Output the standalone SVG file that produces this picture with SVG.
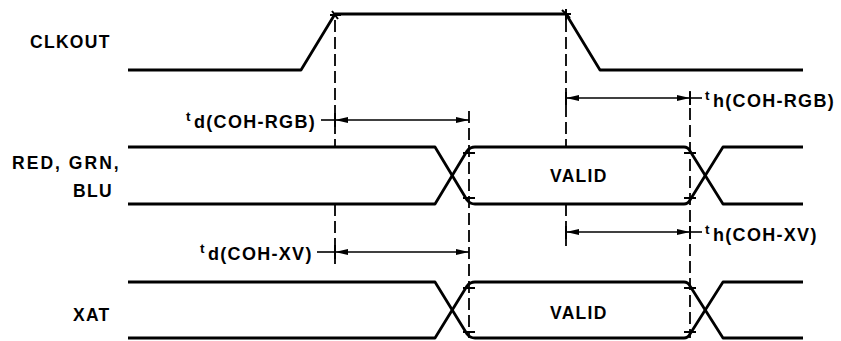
<svg xmlns="http://www.w3.org/2000/svg" width="841" height="341" viewBox="0 0 841 341">
<defs>
<style>
.sig{fill:none;stroke:#000;stroke-width:2.8;stroke-linejoin:round;stroke-linecap:butt}
.dash{fill:none;stroke:#000;stroke-width:1.8;stroke-dasharray:12 5}
.dim{fill:none;stroke:#000;stroke-width:1.6}
.tick{fill:none;stroke:#000;stroke-width:2}
.lbl{font-family:"Liberation Sans",Arial,sans-serif;font-weight:bold;font-size:17.5px;letter-spacing:1.3px;fill:#000}
.t{font-family:"Liberation Sans",Arial,sans-serif;font-weight:bold;font-size:13.5px;fill:#000}
.sub{font-family:"Liberation Sans",Arial,sans-serif;font-weight:bold;font-size:18px;letter-spacing:1.3px;fill:#000}
</style>
<marker id="ah" viewBox="0 0 13 7" refX="13" refY="3.5" markerWidth="13" markerHeight="7" markerUnits="userSpaceOnUse" orient="auto-start-reverse">
<path d="M0,0.5 L13,3.5 L0,6.5 Z" fill="#000"/>
</marker>
</defs>
<rect width="841" height="341" fill="#fff"/>

<g id="clkout">
<text class="lbl" x="30" y="48">CLKOUT</text>
<path class="sig" d="M128,70 H301 L335,14 H566 L600,70 H803"/>
<path class="tick" d="M330,15 H341 M332,11 L338,19 M566,9 V20 M561,14 H571 M562,10 L570,18"/>
</g>

<g id="rgb">
<text class="lbl" x="12" y="169" textLength="108" lengthAdjust="spacing">RED, GRN,</text>
<text class="lbl" x="73" y="197">BLU</text>
<path class="sig" d="M128,147 H435 L467,200 Q470,204 475,204 H684 Q688,204 690,200 L723,147 H803"/>
<path class="sig" d="M128,204 H435 L467,151 Q470,147 475,147 H684 Q688,147 690,151 L723,204 H803"/>
<path class="tick" d="M463,153 H475 M463,198 H475 M684,153 H696 M684,198 H696"/>
<text class="lbl" x="550" y="182">VALID</text>
</g>

<g id="xat">
<text class="lbl" x="73" y="321">XAT</text>
<path class="sig" d="M128,282 H435 L467,334 Q470,338 475,338 H684 Q688,338 690,334 L723,282 H803"/>
<path class="sig" d="M128,338 H435 L467,286 Q470,282 475,282 H684 Q688,282 690,286 L723,338 H803"/>
<path class="tick" d="M463,288 H475 M463,332 H475 M684,288 H696 M684,332 H696"/>
<text class="lbl" x="550" y="319">VALID</text>
</g>

<g id="connectors">
<path class="dash" d="M335,20 V147 M335,204 V264"/>
<path class="dash" d="M566,20 V147 M566,204 V246"/>
<path class="dash" d="M469,111 V338"/>
<path class="dash" d="M690,91 V338"/>
<path class="tick" d="M335,113 V127 M335,245 V259 M566,92 V105 M566,226 V239 M690,92 V105 M690,226 V239"/>
<path class="dim" d="M321,120 H335"/>
<path class="dim" d="M335,120 H469" marker-start="url(#ah)" marker-end="url(#ah)"/>
<path class="dim" d="M566,98 H690" marker-start="url(#ah)" marker-end="url(#ah)"/>
<path class="dim" d="M690,98 H702"/>
<path class="dim" d="M317,252 H335"/>
<path class="dim" d="M335,252 H469" marker-start="url(#ah)" marker-end="url(#ah)"/>
<path class="dim" d="M566,232 H690" marker-start="url(#ah)" marker-end="url(#ah)"/>
<path class="dim" d="M690,232 H702"/>
</g>

<g id="labels">
<text x="186" y="121"><tspan class="t">t</tspan><tspan class="sub" x="194" y="128">d(COH-RGB)</tspan></text>
<text x="705" y="100"><tspan class="t">t</tspan><tspan class="sub" x="713" y="107">h(COH-RGB)</tspan></text>
<text x="200" y="253"><tspan class="t">t</tspan><tspan class="sub" x="208" y="260">d(COH-XV)</tspan></text>
<text x="705" y="234"><tspan class="t">t</tspan><tspan class="sub" x="713" y="241">h(COH-XV)</tspan></text>
</g>
</svg>
